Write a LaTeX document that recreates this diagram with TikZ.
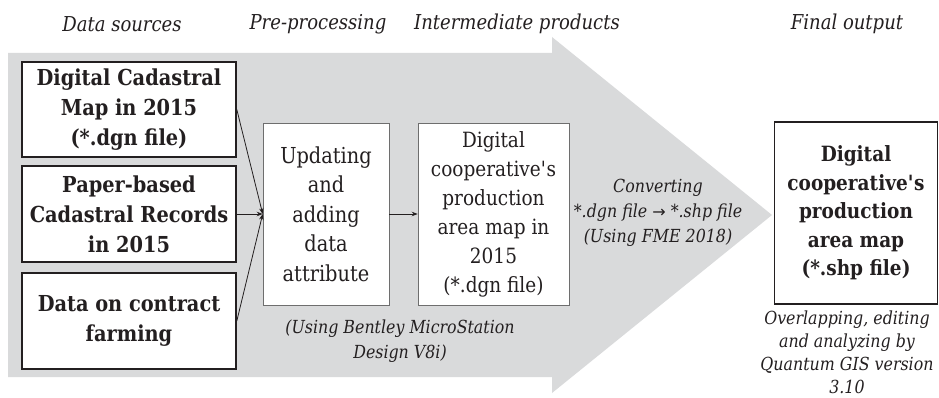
\documentclass[tikz,border=0pt]{standalone}
\usepackage{fontspec}
\setmainfont{DejaVu Serif}[FakeStretch=0.88]
\newfontfamily\symfont{DejaVu Sans}
\usetikzlibrary{arrows.meta}
\definecolor{ink}{HTML}{231F20}
\definecolor{bigarrow}{HTML}{D9DADB}
\definecolor{thinbox}{HTML}{6E6E6E}
\tikzset{
  hdr/.style={font=\itshape\fontsize{20.5}{24}\selectfont, text=ink},
  srcbox/.style={draw=ink, line width=1.6pt, fill=white, align=center, inner sep=0pt,
     font=\bfseries\fontsize{22}{30}\selectfont, text=ink},
  finbox/.style={srcbox, font=\bfseries\fontsize{21}{28.5}\selectfont},
  midbox/.style={draw=thinbox, line width=0.6pt, fill=white, align=center, inner sep=0pt,
     font=\fontsize{22}{29.5}\selectfont, text=ink},
  note/.style={align=center, font=\itshape\fontsize{18}{25}\selectfont, text=ink},
  conn/.style={draw=ink, line width=0.8pt, -{Stealth[length=6pt,width=4.5pt]}},
}
\begin{document}
\begin{tikzpicture}[x=1pt,y=-1pt]
\useasboundingbox (0,0) rectangle (939,398);
\fill[bigarrow] (8,53) -- (552,53) -- (552,37) -- (772,215) -- (552,393) -- (552,377) -- (8,377) -- cycle;

\node[hdr] (h1) at (122,24) {Data sources};
\node[hdr] (h2) at (318,24) {Pre-processing};
\node[hdr] (h3) at (517,24) {Intermediate products};
\node[hdr] (h4) at (847,24) {Final output};

\node[srcbox, minimum width=214pt, minimum height=95pt] (s1) at (129,109.5) {Digital Cadastral\\Map in 2015\\(*.dgn file)};
\node[srcbox, minimum width=214pt, minimum height=96pt] (s2) at (129,214) {Paper-based\\Cadastral Records\\in 2015};
\node[srcbox, minimum width=214pt, minimum height=96pt] (s3) at (129,321) {Data on contract\\farming};

\node[midbox, minimum width=126pt, minimum height=182pt] (pre) at (326,214) {Updating\\and\\adding\\data\\attribute};
\node[midbox, minimum width=151pt, minimum height=182pt, font=\fontsize{21}{29}\selectfont] (mid) at (493.5,214) {Digital\\cooperative\textquotesingle s\\production\\area map in\\2015\\(*.dgn file)};

\node[finbox, minimum width=163pt, minimum height=182pt] (fin) at (856,213) {Digital\\cooperative\textquotesingle s\\production\\area map\\(*.shp file)};

\node[note] (conv) at (658,213) {Converting\\*.dgn file {\symfont\upshape\fontsize{16}{25}\selectfont →} *.shp file\\(Using FME 2018)};
\node[note] (bent) at (400,341) {(Using Bentley MicroStation\\Design V8i)};
\node[note, font=\itshape\fontsize{18}{23}\selectfont] (qgis) at (847,352) {Overlapping, editing\\and analyzing by\\Quantum GIS version\\3.10};

\draw[conn] (s1.east) -- (pre.west);
\draw[conn] (s2.east) -- (pre.west);
\draw[conn] (s3.east) -- (pre.west);
\draw[conn] (pre.east) -- (mid.west);
\end{tikzpicture}
\end{document}
